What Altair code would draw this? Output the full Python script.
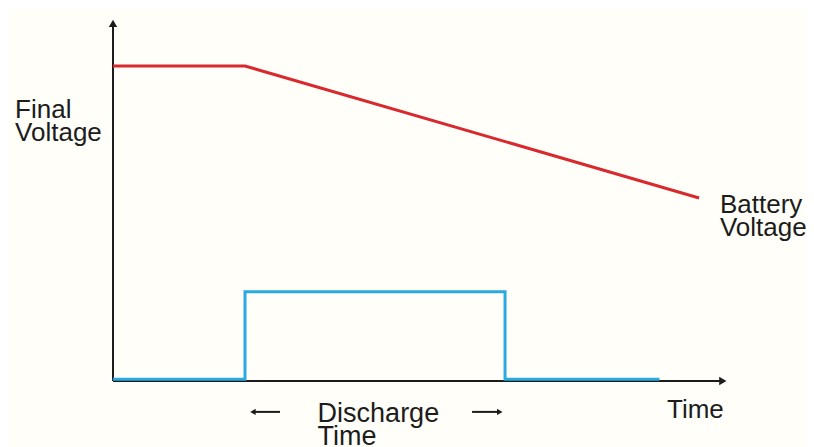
import altair as alt
import pandas as pd

# Data (time and voltage in arbitrary units)
red_t = [0, 10, 44.4]
red_v = [10, 10, 5.81]
blue_t = [0, 10, 10, 29.7, 29.7, 41.4]
blue_v = [0.06, 0.06, 2.83, 2.83, 0.06, 0.06]

axis_t_end = 46.2
axis_v_end = 11.35

labels = ["Final\nVoltage", "Battery\nVoltage", "Time", "Discharge\nTime"]
label_t = [-7.42, 45.98, 41.97, 15.5]
label_v = [8.35, 5.33, -1.17, -1.30]
label_size = [26, 26, 26, 27]

arrow_t1 = [10.6, 27.2]
arrow_t2 = [12.65, 29.3]
arrow_v = [-0.98, -0.98]
arrow_head_t = [10.6, 29.3]
arrow_shape = ["triangle-left", "triangle-right"]

xs = alt.Scale(domain=[-7.955, 52.5], nice=False, zero=False)
ys = alt.Scale(domain=[-2.094, 11.84], nice=False, zero=False)

red_df = pd.DataFrame({"t": red_t, "v": red_v, "i": range(len(red_t))})
blue_df = pd.DataFrame({"t": blue_t, "v": blue_v, "i": range(len(blue_t))})
axes_df = pd.DataFrame({"t": [0, 0], "t2": [0, axis_t_end], "v": [0, 0], "v2": [axis_v_end, 0]})
heads_df = pd.DataFrame({"t": [0, axis_t_end], "v": [axis_v_end, 0], "shape": ["triangle-up", "triangle-right"]})
label_df = pd.DataFrame({"t": label_t, "v": label_v, "text": labels, "size": label_size})
arr_df = pd.DataFrame({"t": arrow_t1, "t2": arrow_t2, "v": arrow_v})
arr_head_df = pd.DataFrame({"t": arrow_head_t, "v": arrow_v, "shape": arrow_shape})

X = lambda f="t": alt.X(f"{f}:Q", scale=xs, axis=None)
Y = lambda f="v": alt.Y(f"{f}:Q", scale=ys, axis=None)

axes = alt.Chart(axes_df).mark_rule(color="#1c1c1c", strokeWidth=2).encode(
    x=X(), x2="t2:Q", y=Y(), y2="v2:Q")
heads = alt.Chart(heads_df).mark_point(filled=True, color="#1c1c1c", size=70, opacity=1).encode(
    x=X(), y=Y(), shape=alt.Shape("shape:N", scale=None, legend=None))
red = alt.Chart(red_df).mark_line(color="#d8292f", strokeWidth=3).encode(
    x=X(), y=Y(), order="i:Q")
blue = alt.Chart(blue_df).mark_line(color="#29abe2", strokeWidth=3).encode(
    x=X(), y=Y(), order="i:Q")
text = alt.Chart(label_df).mark_text(
    align="left", baseline="alphabetic", lineBreak="\n", font="Liberation Sans",
    lineHeight=23, color="#1c1c1c").encode(
    x=X(), y=Y(), text="text:N", size=alt.Size("size:Q", scale=None, legend=None))
arr = alt.Chart(arr_df).mark_rule(color="#1c1c1c", strokeWidth=2).encode(
    x=X(), x2="t2:Q", y=Y())
arr_heads = alt.Chart(arr_head_df).mark_point(filled=True, color="#1c1c1c", size=40, opacity=1).encode(
    x=X(), y=Y(), shape=alt.Shape("shape:N", scale=None, legend=None))

chart = alt.layer(axes, heads, red, blue, text, arr, arr_heads).properties(
    width=798, height=439, autosize="none", padding=0, background="#fffef8"
).configure_view(stroke=None)

chart.save("out.html", embed_options={"renderer": "svg", "actions": False})
